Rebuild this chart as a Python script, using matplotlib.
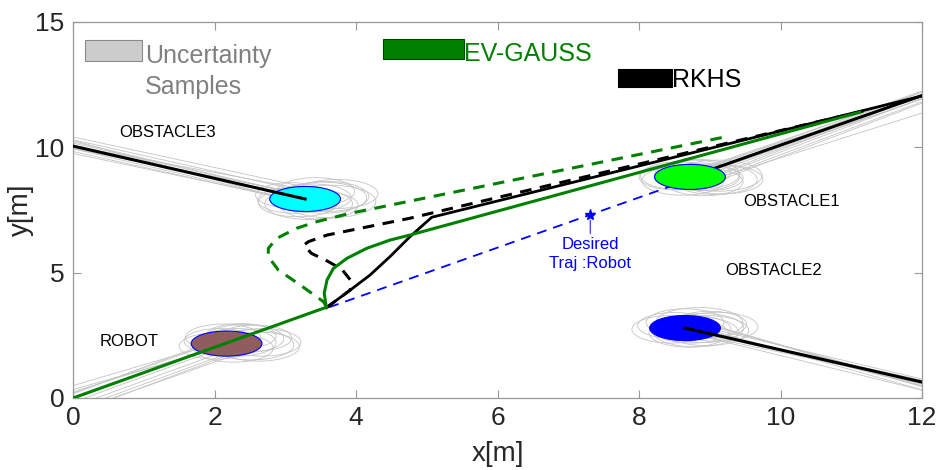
import matplotlib
matplotlib.use("Agg")
import matplotlib.pyplot as plt
from matplotlib.patches import Circle, Rectangle

plt.rcParams['font.family'] = ['Liberation Sans', 'DejaVu Sans']
NARROW = ['Liberation Sans Narrow', 'DejaVu Sans Condensed', 'Liberation Sans']

# ---- robot trajectories (metres) ----
robot_path_x = [0.0, 3.58]
robot_path_y = [0.0, 3.62]

ev_gauss_x = [3.58, 3.55, 3.59, 3.68, 3.87, 4.15, 4.48, 4.76, 11.12]
ev_gauss_y = [3.62, 4.18, 4.71, 5.17, 5.57, 5.97, 6.30, 6.50, 11.40]

ev_gauss_alt_x = [3.58, 3.54, 3.21, 2.90, 2.76, 2.76, 2.88, 3.16, 3.44, 3.92, 9.19]
ev_gauss_alt_y = [3.64, 3.84, 4.51, 5.11, 5.64, 5.97, 6.37, 6.77, 7.03, 7.37, 10.40]

rkhs_x = [3.58, 3.92, 4.20, 4.48, 4.76, 5.07, 12.0]
rkhs_y = [3.60, 4.31, 4.91, 5.64, 6.43, 7.21, 12.05]

rkhs_alt_x = [3.58, 3.92, 3.92, 3.80, 3.61, 3.37, 3.26, 3.33, 3.59, 4.06, 4.76, 11.17]
rkhs_alt_y = [3.60, 4.31, 4.71, 5.13, 5.44, 5.77, 6.10, 6.24, 6.50, 6.77, 7.17, 11.45]

desired_x = [3.62, 8.72]
desired_y = [3.62, 8.72]
desired_marker = (7.31, 7.31)

# ---- bodies: robot and obstacles (centre, radius) ----
robot_center = (2.17, 2.17)
obstacle_names = ['OBSTACLE1', 'OBSTACLE2', 'OBSTACLE3']
obstacle_x = [8.72, 8.65, 3.28]
obstacle_y = [8.82, 2.79, 7.94]
body_radius = 0.5

# obstacle paths (far end -> current position)
obs1_path_x = [12.6, 8.72]
obs1_path_y = [12.66, 8.82]
obs2_path_x = [12.6, 8.65]
obs2_path_y = [0.25, 2.79]
obs3_path_x = [-0.5, 3.28]
obs3_path_y = [10.37, 7.94]
robot_prior_x = [-1.0, 2.17]
robot_prior_y = [-1.0, 2.17]

# uncertainty samples: (start dx, start dy, end dx, end dy, radius)
robot_samples = [
    (0.00, 0.00, 0.00, 0.00, 0.50), (0.10, -0.10, 0.15, 0.05, 0.55),
    (0.25, -0.25, 0.35, -0.05, 0.60), (0.33, -0.33, 0.50, 0.05, 0.55),
    (-0.10, 0.10, -0.10, 0.10, 0.50), (-0.20, 0.20, 0.25, 0.20, 0.56),
    (-0.30, 0.30, 0.40, 0.22, 0.52), (0.05, -0.05, -0.15, -0.10, 0.52),
    (0.18, -0.18, 0.10, -0.18, 0.56), (0.28, -0.28, 0.45, -0.12, 0.58),
    (-0.36, 0.36, 0.20, 0.30, 0.50), (-0.05, 0.05, -0.05, 0.25, 0.53),
]
obs1_samples = [
    (0.00, 0.00, 0.00, 0.00, 0.50), (0.06, -0.06, 0.15, 0.00, 0.55),
    (0.10, -0.10, 0.35, -0.10, 0.60), (-0.06, 0.06, -0.15, 0.05, 0.55),
    (-0.10, 0.10, 0.05, 0.15, 0.52), (0.03, -0.03, 0.40, 0.05, 0.62),
    (0.08, -0.08, -0.10, -0.15, 0.58), (-0.03, 0.03, 0.25, -0.05, 0.50),
    (0.12, -0.12, 0.45, -0.10, 0.58), (0.40, -0.40, 0.20, -0.20, 0.55),
    (-0.08, 0.08, 0.10, 0.10, 0.60), (0.05, -0.05, -0.20, 0.00, 0.52),
]
obs2_samples = [
    (0.0, 0.00, 0.00, 0.00, 0.50), (0.0, -0.10, 0.10, -0.05, 0.55),
    (0.0, -0.20, 0.30, -0.10, 0.60), (0.0, -0.30, 0.45, 0.05, 0.58),
    (0.0, 0.08, -0.15, 0.10, 0.52), (0.0, -0.35, 0.05, -0.20, 0.56),
    (0.0, -0.15, 0.20, 0.20, 0.62), (0.0, 0.04, -0.20, -0.05, 0.55),
    (0.0, -0.25, 0.35, 0.15, 0.52), (0.0, -0.05, 0.15, -0.15, 0.60),
    (0.0, 0.10, 0.00, 0.22, 0.55), (0.0, -0.40, 0.25, 0.00, 0.58),
]
obs3_samples = [
    (0.0, 0.00, 0.00, 0.00, 0.50), (0.0, 0.12, 0.10, 0.05, 0.55),
    (0.0, 0.25, 0.30, 0.10, 0.60), (0.0, 0.35, 0.45, 0.20, 0.58),
    (0.0, -0.10, -0.15, -0.05, 0.52), (0.0, -0.22, 0.05, -0.20, 0.62),
    (0.0, -0.32, 0.20, -0.25, 0.55), (0.0, 0.05, -0.20, 0.15, 0.50),
    (0.0, 0.18, 0.35, -0.10, 0.65), (0.0, -0.05, 0.15, 0.30, 0.55),
    (0.0, 0.30, -0.10, -0.15, 0.56), (0.0, -0.15, 0.25, 0.05, 0.62),
]

x_ticks = [0, 2, 4, 6, 8, 10, 12]
y_ticks = [0, 5, 10, 15]

GREEN = '#008000'
SAMPLE_GREY = '#c4c4c4'

fig = plt.figure(figsize=(9.4, 4.7), dpi=100)
ax = fig.add_axes([0.0777, 0.1532, 0.9032, 0.80])
ax.set_xlim(0, 12)
ax.set_ylim(0, 15)


def draw_samples(path_x, path_y, samples):
    for sx, sy, ex, ey, r in samples:
        ax.plot([path_x[0] + sx, path_x[1] + ex], [path_y[0] + sy, path_y[1] + ey],
                color=SAMPLE_GREY, lw=0.6, zorder=1)
        ax.add_patch(Circle((path_x[1] + ex, path_y[1] + ey), r, fill=False,
                            ec=SAMPLE_GREY, lw=0.6, zorder=1))


draw_samples(robot_prior_x, robot_prior_y, robot_samples)
draw_samples(obs1_path_x, obs1_path_y, obs1_samples)
draw_samples(obs2_path_x, obs2_path_y, obs2_samples)
draw_samples(obs3_path_x, obs3_path_y, obs3_samples)

# desired straight-line trajectory
ax.plot(desired_x, desired_y, color='blue', lw=1.3, dashes=(5.5, 3.9), zorder=2)
ax.plot(*desired_marker, marker='*', color='blue', ms=8, zorder=6)
ax.annotate('', xy=(desired_marker[0], desired_marker[1] - 0.1),
            xytext=(desired_marker[0], 6.45),
            arrowprops=dict(arrowstyle='-', color='blue', lw=0.7), zorder=6)
ax.text(7.31, 6.42, 'Desired\nTraj :Robot', color='blue', fontsize=12,
        ha='center', va='top', linespacing=1.3, zorder=6)

# obstacle 1 path lies beneath its body
ax.plot(obs1_path_x, obs1_path_y, color='black', lw=2.2, zorder=2.5)

body_colors = ['#00ff00', '#0000ff', '#00ffff']
for cx, cy, fc in zip(obstacle_x, obstacle_y, body_colors):
    ax.add_patch(Circle((cx, cy), body_radius, fc=fc, ec='blue', lw=0.8, zorder=3))
ax.add_patch(Circle(robot_center, body_radius, fc='#8f5d5d', ec='blue', lw=0.8, zorder=3))

ax.plot(obs2_path_x, obs2_path_y, color='black', lw=2.2, zorder=4)
ax.plot(obs3_path_x, obs3_path_y, color='black', lw=2.2, zorder=4)

# planned trajectories
ax.plot(ev_gauss_alt_x, ev_gauss_alt_y, color=GREEN, lw=2.2, dashes=(3.8, 2.8), zorder=5)
ax.plot(rkhs_alt_x, rkhs_alt_y, color='black', lw=2.2, dashes=(3.8, 2.8), zorder=5)
ax.plot(rkhs_x, rkhs_y, color='black', lw=2.0, zorder=5)
ax.plot(robot_path_x, robot_path_y, color=GREEN, lw=2.2, zorder=5)
ax.plot(ev_gauss_x, ev_gauss_y, color=GREEN, lw=2.2, zorder=5)

# body labels
ax.text(0.65, 10.59, 'OBSTACLE3', fontsize=12, va='center', ha='left', zorder=6)
ax.text(9.47, 7.83, 'OBSTACLE1', fontsize=12, va='center', ha='left', zorder=6)
ax.text(9.22, 5.07, 'OBSTACLE2', fontsize=12, va='center', ha='left', zorder=6)
ax.text(0.38, 2.25, 'ROBOT', fontsize=12, va='center', ha='left', zorder=6)

# key
ax.add_patch(Rectangle((0.17, 13.45), 0.80, 0.83, fc='#cccccc', ec='#8a8a8a', lw=0.8, zorder=6))
ax.text(1.02, 13.36, 'Uncertainty', color='#808080', fontsize=18, va='baseline', zorder=6)
ax.text(1.02, 12.13, 'Samples', color='#808080', fontsize=18, va='baseline', zorder=6)
ax.add_patch(Rectangle((4.38, 13.53), 1.15, 0.78, fc=GREEN, ec='#004000', lw=0.8, zorder=6))
ax.text(5.53, 13.45, 'EV-GAUSS', color=GREEN, fontsize=18, va='baseline', zorder=6)
ax.add_patch(Rectangle((7.70, 12.42), 0.76, 0.70, fc='black', ec='black', lw=0.8, zorder=6))
ax.text(8.47, 12.41, 'RKHS', color='black', fontsize=18, va='baseline', zorder=6)

# axes styling
ax.set_xticks(x_ticks)
ax.set_yticks(y_ticks)
ax.tick_params(direction='in', length=6, width=0.8, color='#999999',
               top=True, right=True, labelsize=19, labelcolor='#262626', pad=6)
for lab in ax.get_xticklabels() + ax.get_yticklabels():
    lab.set_family(NARROW)
for sp in ax.spines.values():
    sp.set_color('#999999')
    sp.set_linewidth(0.9)
ax.set_xlabel('x[m]', fontsize=20, family=NARROW, color='#262626')
ax.set_ylabel('y[m]', fontsize=20, family=NARROW, color='#262626')
ax.xaxis.set_label_coords(0.5, -0.115)
ax.yaxis.set_label_coords(-0.046, 0.5)

fig.savefig('out.png', dpi=100)
